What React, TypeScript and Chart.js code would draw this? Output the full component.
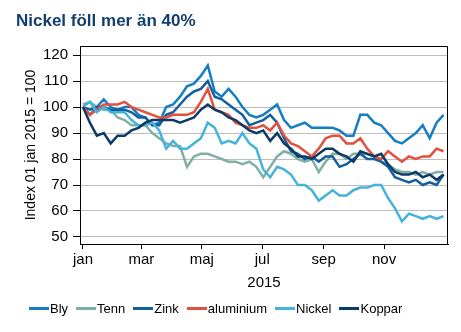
import React, { useEffect, useRef } from "react";
import { Chart, registerables } from "chart.js";

Chart.register(...registerables);

const FONT = "'Liberation Sans', Arial, sans-serif";

const titleText = "Nickel föll mer än 40%";
const yAxisTitle = "Index 01 jan 2015 = 100";
const xAxisTitle = "2015";

// day of year (0 = 1 jan 2015), one sample per week
const days = [
  0, 7, 14, 21, 28, 35, 42, 49, 56, 63, 70, 77, 84, 91, 98, 105, 112, 119, 126, 133,
  140, 147, 154, 161, 168, 175, 182, 189, 196, 203, 210, 217, 224, 231, 238, 245, 252,
  259, 266, 273, 280, 287, 294, 301, 308, 315, 322, 329, 336, 343, 350, 357, 364,
];

const monthTickDays = [0, 59, 120, 181, 243, 304];
const monthTickLabels = ["jan", "mar", "maj", "jul", "sep", "nov"];
const yTicks = [50, 60, 70, 80, 90, 100, 110, 120];

const seriesNames = ["Bly", "Tenn", "Zink", "aluminium", "Nickel", "Koppar"];
const seriesColors = ["#157ec2", "#80b0a5", "#155f9e", "#e2513d", "#45b3dc", "#0c3b66"];

const bly = [
  100, 97, 100, 103, 100, 99, 100, 100, 97, 96, 93, 94, 100, 101, 104, 108, 109, 112, 116, 106,
  104, 107, 104, 100, 97, 96, 97, 99, 101, 95, 92, 93, 94, 92, 92, 92, 92, 91, 89, 89,
  97, 97, 94, 93, 90, 87, 86, 88, 90, 93, 88, 94, 97,
];
const tenn = [
  101, 102, 100, 99, 99, 96, 95, 93, 93, 93, 90, 88, 86, 85, 85, 77, 81, 82, 82, 81,
  80, 79, 79, 78, 79, 77, 73, 77, 81, 83, 82, 80, 79, 80, 75, 79, 82, 82, 80, 82,
  82, 82, 81, 79, 78, 76, 75, 75, 74, 75, 74, 75, 75,
];
const zink = [
  100, 99, 100, 100, 99, 99, 99, 98, 96, 96, 93, 93, 97, 98, 101, 104, 106, 107, 110, 104,
  103, 101, 99, 97, 93, 94, 95, 97, 94, 88, 83, 82, 80, 81, 79, 81, 81, 77, 78, 80,
  82, 80, 80, 79, 77, 73, 72, 71, 72, 70, 71, 70, 74,
];
const aluminium = [
  100, 97, 99, 101, 101, 101, 102, 100, 99, 98, 97, 96, 96, 97, 97, 97, 98, 102, 107, 99,
  98, 97, 94, 93, 92, 92, 93, 91, 94, 89, 86, 85, 83, 81, 84, 88, 89, 89, 86, 86,
  88, 84, 81, 80, 83, 81, 79, 81, 80, 81, 81, 84, 83,
];
const nickel = [
  100, 102, 98, 100, 98, 98, 98, 95, 93, 93, 94, 91, 84, 87, 84, 84, 86, 88, 94, 92,
  86, 87, 86, 90, 86, 84, 76, 73, 77, 76, 74, 70, 70, 68, 64, 66, 68, 66, 66, 68,
  69, 69, 70, 70, 65, 61, 56, 59, 58, 57, 58, 57, 58,
];
const koppar = [
  100, 94, 89, 90, 86, 89, 89, 91, 92, 94, 95, 95, 95, 95, 94, 95, 96, 99, 101, 99,
  98, 96, 95, 93, 91, 90, 91, 87, 90, 86, 84, 81, 81, 80, 82, 84, 84, 82, 81, 79,
  83, 82, 81, 82, 78, 75, 74, 74, 75, 73, 74, 72, 74,
];

const seriesValues = [bly, tenn, zink, aluminium, nickel, koppar];

const framePlugin = {
  id: "frame",
  afterDraw(chart: any) {
    const { ctx, chartArea: a } = chart;
    ctx.save();
    ctx.strokeStyle = "#000";
    ctx.lineWidth = 1;
    const top = Math.round(a.top) + 0.5;
    const right = Math.round(a.right) - 0.5;
    ctx.beginPath();
    ctx.moveTo(a.left, top);
    ctx.lineTo(right, top);
    ctx.lineTo(right, a.bottom);
    ctx.stroke();
    ctx.restore();
  },
};

export default function App() {
  const ref = useRef<HTMLCanvasElement>(null);

  useEffect(() => {
    const canvas = ref.current!;
    const chart = new Chart(canvas, {
      type: "line",
      data: {
        datasets: seriesNames.map((name, i) => ({
          label: name,
          data: days.map((d, j) => ({ x: d, y: seriesValues[i][j] })),
          borderColor: seriesColors[i],
          backgroundColor: seriesColors[i],
          borderWidth: 2.5,
          pointRadius: 0,
          tension: 0,
          fill: false,
          order: seriesNames.length - i,
        })),
      },
      options: {
        responsive: false,
        animation: false,
        events: [],
        layout: { padding: { left: 21, right: 13, top: 46, bottom: 40 } },
        plugins: {
          legend: { display: false },
          title: { display: false },
          tooltip: { enabled: false },
        },
        scales: {
          x: {
            type: "linear",
            min: -3,
            max: 368.5,
            afterBuildTicks: (s: any) => {
              s.ticks = monthTickDays.map((v) => ({ value: v }));
            },
            afterFit: (s: any) => {
              s.height = 48;
            },
            ticks: {
              autoSkip: false,
              maxRotation: 0,
              padding: 2,
              color: "#000",
              font: { family: FONT, size: 15 },
              callback: (v: any) => {
                const idx = monthTickDays.indexOf(Number(v));
                return idx >= 0 ? monthTickLabels[idx] : "";
              },
            },
            grid: {
              drawOnChartArea: false,
              drawTicks: true,
              tickLength: 5,
              tickColor: "#000",
            },
            border: { color: "#000", width: 1 },
            title: {
              display: true,
              text: xAxisTitle,
              color: "#000",
              font: { family: FONT, size: 15 },
              padding: { top: 1, bottom: 0 },
            },
          },
          y: {
            type: "linear",
            min: 47.3,
            max: 123.5,
            afterBuildTicks: (s: any) => {
              s.ticks = yTicks.map((v) => ({ value: v }));
            },
            afterFit: (s: any) => {
              s.width = 59;
            },
            ticks: {
              padding: 5,
              color: "#000",
              font: { family: FONT, size: 15 },
            },
            grid: {
              color: "#bdbdbd",
              lineWidth: 1,
              drawTicks: true,
              tickLength: 7,
              tickColor: "#000",
            },
            border: { color: "#000", width: 1 },
            title: {
              display: true,
              text: yAxisTitle,
              color: "#000",
              font: { family: FONT, size: 14 },
              padding: { top: 2, bottom: 2 },
            },
          },
        },
      },
      plugins: [framePlugin],
    });
    return () => chart.destroy();
  }, []);

  return (
    <div style={{ position: "fixed", left: 0, top: 0, width: 461, height: 332, background: "#fff", fontFamily: FONT }}>
      <canvas ref={ref} width={461} height={332} style={{ position: "absolute", left: 0, top: 0, width: 461, height: 332 }} />
      <div
        style={{
          position: "absolute",
          left: 16,
          top: 11,
          fontSize: 17,
          lineHeight: "20px",
          fontWeight: "bold",
          color: "#123f6e",
          whiteSpace: "nowrap",
        }}
      >
        {titleText}
      </div>
      <div
        style={{
          position: "absolute",
          left: 29,
          top: 299,
          height: 18,
          display: "flex",
          alignItems: "center",
          fontSize: 13,
          color: "#000",
          whiteSpace: "nowrap",
        }}
      >
        {seriesNames.map((name, i) => (
          <div key={name} style={{ display: "flex", alignItems: "center", marginRight: 8 }}>
            <span style={{ display: "inline-block", width: 20, height: 3, background: seriesColors[i], marginRight: 1 }} />
            <span>{name}</span>
          </div>
        ))}
      </div>
    </div>
  );
}
